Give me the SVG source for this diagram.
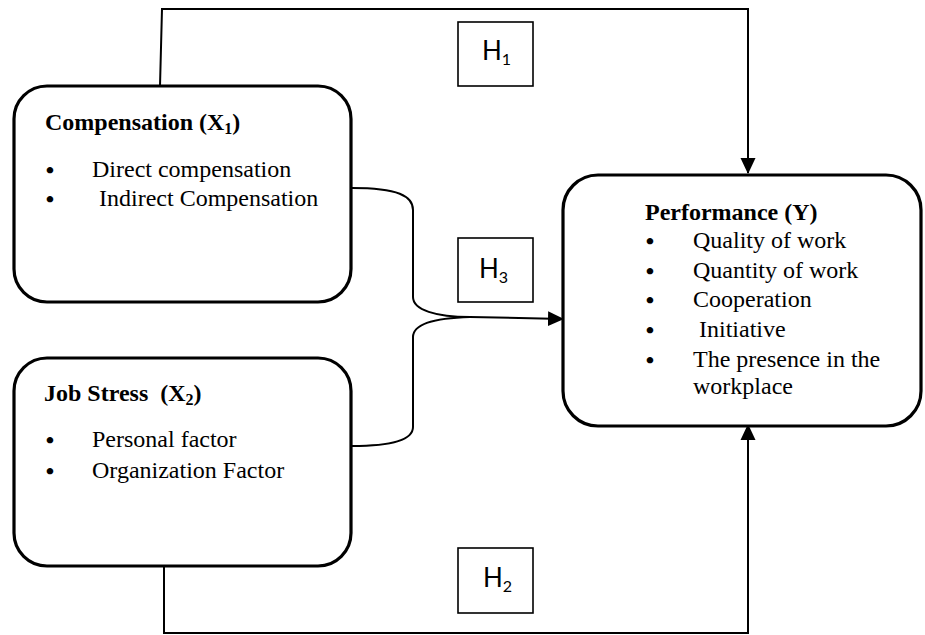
<svg xmlns="http://www.w3.org/2000/svg" width="925" height="635" viewBox="0 0 925 635">
<style>
.box{fill:#fff;stroke:#000;stroke-width:3.2}
.hbox{fill:#fff;stroke:#000;stroke-width:1.6}
.conn{fill:none;stroke:#000;stroke-width:2}
.t{font-family:"Liberation Serif","Times New Roman",serif;font-size:24px;fill:#000}
.bl{font-family:"Liberation Serif","Times New Roman",serif;font-size:24px;font-weight:bold;fill:#000;text-anchor:middle}
.b{font-weight:bold}
.h{font-family:Lato,"Open Sans",sans-serif;font-size:26px;fill:#000}
.sub{font-size:16px}
</style>
<defs>
<marker id="arr" viewBox="0 0 16 16" refX="15" refY="8" markerWidth="16" markerHeight="16" markerUnits="userSpaceOnUse" orient="auto">
<path d="M0,0.5 L16,8 L0,15.5 z" fill="#000"/>
</marker>
</defs>
<g id="connectors">
<path class="conn" d="M160,86 L162,9 L748,9 L748,173" marker-end="url(#arr)"/>
<path class="conn" d="M164,567 L164,633 L748,633 L748,425" marker-end="url(#arr)"/>
<path class="conn" d="M352,188 C398,188 413,196 413,210 L413,297 C413,310 436,317 470,317 L563,319" marker-end="url(#arr)"/>
<path class="conn" d="M352,446 C398,446 413,438 413,427 L413,337 C413,324 436,318 470,317"/>
</g>
<g id="compensation">
<rect class="box" x="14" y="86" width="337" height="216" rx="33"/>
<text class="t b" x="45" y="130">Compensation (X<tspan class="sub" dy="4">1</tspan><tspan dy="-4">)</tspan></text>
<text class="bl" x="50" y="178">•</text>
<text class="t" x="92" y="177">Direct compensation</text>
<text class="bl" x="50" y="207">•</text>
<text class="t" x="99" y="206">Indirect Compensation</text>
</g>
<g id="jobstress">
<rect class="box" x="14" y="358" width="337" height="208" rx="33"/>
<text class="t b" x="44" y="401" style="white-space:pre">Job Stress  (X<tspan class="sub" dy="4">2</tspan><tspan dy="-4">)</tspan></text>
<text class="bl" x="50" y="448">•</text>
<text class="t" x="92" y="447">Personal factor</text>
<text class="bl" x="50" y="479">•</text>
<text class="t" x="92" y="478">Organization Factor</text>
</g>
<g id="performance">
<rect class="box" x="563" y="175" width="358" height="251" rx="35"/>
<text class="t b" x="645" y="220">Performance (Y)</text>
<text class="bl" x="650" y="249">•</text>
<text class="t" x="693" y="248">Quality of work</text>
<text class="bl" x="650" y="279">•</text>
<text class="t" x="693" y="278">Quantity of work</text>
<text class="bl" x="650" y="308">•</text>
<text class="t" x="693" y="307">Cooperation</text>
<text class="bl" x="650" y="338">•</text>
<text class="t" x="699" y="337">Initiative</text>
<text class="bl" x="650" y="368">•</text>
<text class="t" x="693" y="367">The presence in the</text>
<text class="t" x="693" y="394">workplace</text>
</g>
<g id="h1">
<rect class="hbox" x="458" y="22" width="75" height="64"/>
<text class="h" x="482" y="60">H<tspan class="sub" dy="5">1</tspan></text>
</g>
<g id="h3">
<rect class="hbox" x="458" y="238" width="75" height="64"/>
<text class="h" x="479" y="278">H<tspan class="sub" dy="5">3</tspan></text>
</g>
<g id="h2">
<rect class="hbox" x="458" y="548" width="75" height="65"/>
<text class="h" x="483" y="587">H<tspan class="sub" dy="5">2</tspan></text>
</g>
</svg>
